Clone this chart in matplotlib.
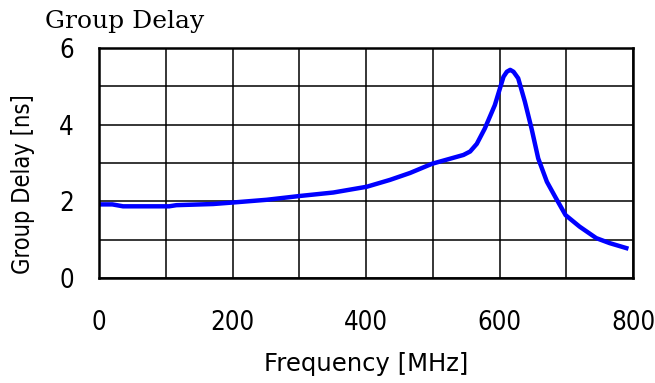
import numpy as np
import matplotlib
matplotlib.use('Agg')
import matplotlib.pyplot as plt

# Group delay curve
freq = [0, 20, 36, 70, 105, 116, 171, 201, 251, 301, 351, 401, 436, 466, 499,
        546, 556, 566, 578, 593, 606, 611, 616, 621, 628, 638, 648, 658, 671,
        684, 699, 720, 745, 765, 790]
delay = [1.92, 1.92, 1.87, 1.87, 1.87, 1.90, 1.93, 1.97, 2.04, 2.14, 2.23, 2.38,
         2.56, 2.74, 2.98, 3.21, 3.30, 3.50, 3.90, 4.51, 5.25, 5.38, 5.43, 5.38,
         5.21, 4.60, 3.90, 3.12, 2.51, 2.10, 1.64, 1.34, 1.04, 0.91, 0.78]

xticks = [0, 200, 400, 600, 800]
yticks = [0, 2, 4, 6]

fig = plt.figure(figsize=(6.55, 3.83), dpi=100)
ax = fig.add_axes([99/655, 1 - 278/383, 534/655, 230/383])

ax.plot(freq, delay, color='#0000ff', linewidth=3.2, solid_joinstyle='round')

ax.set_xlim(0, 800)
ax.set_ylim(0, 6)
ax.set_xticks(xticks)
ax.set_yticks(yticks)
ax.set_xticks(np.arange(0, 801, 100), minor=True)
ax.set_yticks(np.arange(0, 7, 1), minor=True)
ax.grid(True, which='both', color='black', linewidth=1.1)
ax.tick_params(which='both', length=0)
ax.tick_params(axis='x', pad=23)
ax.tick_params(axis='y', pad=18)
for lab in ax.get_xticklabels() + ax.get_yticklabels():
    lab.set_family('DejaVu Sans')
    lab.set_stretch('condensed')
    lab.set_fontsize(18.5)
for s in ax.spines.values():
    s.set_linewidth(1.8)

ax.set_xlabel('Frequency [MHz]', family='DejaVu Sans', fontsize=17.5)
ax.xaxis.set_label_coords(0.5, -0.32)
ax.set_ylabel('Group Delay [ns]', family='DejaVu Sans', stretch='condensed',
              fontsize=17)
ax.yaxis.set_label_coords(-0.12, 0.41)

fig.text(45/655, 1 - 28/383, 'Group Delay', family='DejaVu Serif',
         fontsize=18, va='baseline', ha='left')

fig.savefig('out.png', dpi=100)
